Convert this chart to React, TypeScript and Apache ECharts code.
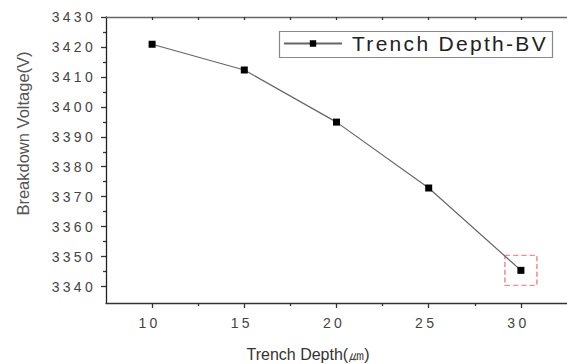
import React, { useEffect, useRef } from "react";
import * as echarts from "echarts";

const depths = [10, 15, 20, 25, 30];
const voltages = [3420.9, 3412.3, 3394.9, 3372.9, 3345.4];
const highlighted = [[30, 3345.4]];
const xMajor = [10, 15, 20, 25, 30];
const xMinor = [12.5, 17.5, 22.5, 27.5];
const xTop = [10, 12.5, 15, 17.5, 20, 22.5, 25, 27.5, 30];
const yMajor = [3340, 3350, 3360, 3370, 3380, 3390, 3400, 3410, 3420, 3430];
const yMinor = [3345, 3355, 3365, 3375, 3385, 3395, 3405, 3415, 3425];
const seriesName = "Trench Depth-BV";
const xTitle = "Trench Depth(㎛)";
const yTitle = "Breakdown Voltage(V)";

const FONT = "'Liberation Sans', Arial, sans-serif";

function applySpacing(el: HTMLDivElement) {
  el.querySelectorAll("text").forEach((t) => {
    const s = (t.textContent || "").trim();
    if (/^\d+$/.test(s)) t.setAttribute("letter-spacing", "3.3");
    else if (s === seriesName) t.setAttribute("letter-spacing", "2.3");
  });
}

export default function App() {
  const ref = useRef<HTMLDivElement>(null);
  useEffect(() => {
    document.body.style.margin = "0";
    const el = ref.current!;
    const chart = echarts.init(el, null, { renderer: "svg" });
    const xMin = 7.5,
      xMax = 32.5,
      yMin = 3334.5,
      yMax = 3430;
    const baseX = {
      type: "value",
      min: xMin,
      max: xMax,
      splitLine: { show: false },
    };
    const baseY = {
      type: "value",
      min: yMin,
      max: yMax,
      splitLine: { show: false },
    };
    const plain = (v: number) => String(v);
    chart.setOption({
      animation: false,
      backgroundColor: "#fff",
      grid: { left: 106, top: 17, width: 464.5, height: 286 },
      legend: {
        data: [seriesName],
        left: 279,
        top: 31,
        padding: [2, 5, 3, 4],
        itemWidth: 58,
        itemHeight: 8,
        textStyle: {
          fontFamily: FONT,
          fontSize: 21,
          color: "#222",
          padding: [0, 0, 0, 5],
        },
      },
      xAxis: [
        {
          ...baseX,
          position: "bottom",
          axisLine: { show: true, onZero: false, lineStyle: { color: "#333", width: 1.3 } },
          axisTick: { show: true, customValues: xMajor, length: 5, inside: false, lineStyle: { color: "#333", width: 1.3 } },
          axisLabel: {
            customValues: xMajor,
            formatter: plain,
            margin: 13,
            padding: [0, 5, 0, 0],
            fontFamily: FONT,
            fontSize: 14,
            color: "#444",
          },
        },
        {
          ...baseX,
          position: "bottom",
          axisLine: { show: false, onZero: false },
          axisTick: { show: true, customValues: xMinor, length: 3, inside: false, lineStyle: { color: "#333", width: 1.3 } },
          axisLabel: { show: false },
        },
        {
          ...baseX,
          position: "top",
          axisLine: { show: true, onZero: false, lineStyle: { color: "#666", width: 1.3 } },
          axisTick: { show: true, customValues: xTop, length: 3, inside: true, lineStyle: { color: "#333", width: 1.3 } },
          axisLabel: { show: false },
        },
      ],
      yAxis: [
        {
          ...baseY,
          position: "left",
          axisLine: { show: true, onZero: false, lineStyle: { color: "#222", width: 1.3 } },
          axisTick: { show: true, customValues: yMajor, length: 5, inside: false, lineStyle: { color: "#333", width: 1.3 } },
          axisLabel: {
            customValues: yMajor,
            formatter: plain,
            margin: 10,
            fontFamily: FONT,
            fontSize: 14,
            color: "#444",
          },
        },
        {
          ...baseY,
          position: "left",
          axisLine: { show: false, onZero: false },
          axisTick: { show: true, customValues: yMinor, length: 3, inside: false, lineStyle: { color: "#333", width: 1.3 } },
          axisLabel: { show: false },
        },
      ],
      graphic: [
        {
          type: "rect",
          shape: { x: 279.5, y: 31.5, width: 273, height: 26 },
          style: { fill: "none", stroke: "#888", lineWidth: 1.2 },
          z: 10,
        },
        {
          type: "text",
          x: 22.5,
          y: 133.5,
          rotation: Math.PI / 2,
          style: {
            text: yTitle,
            font: `16.5px ${FONT}`,
            fill: "#555",
            align: "center",
            verticalAlign: "middle",
          },
        },
        {
          type: "text",
          x: 308,
          y: 354,
          style: {
            text: xTitle,
            font: `16px ${FONT}`,
            fill: "#333",
            align: "center",
            verticalAlign: "middle",
          },
        },
      ],
      series: [
        {
          name: "highlight",
          type: "scatter",
          xAxisIndex: 0,
          yAxisIndex: 0,
          data: highlighted,
          symbol: "rect",
          symbolSize: [32, 30],
          itemStyle: {
            color: "rgba(0,0,0,0)",
            borderColor: "#f07070",
            borderWidth: 1.5,
            borderType: [5, 3],
          },
          silent: true,
          z: 1,
        },
        {
          name: seriesName,
          type: "line",
          xAxisIndex: 0,
          yAxisIndex: 0,
          data: depths.map((d, i) => [d, voltages[i]]),
          symbol: "rect",
          symbolSize: 7,
          showAllSymbol: true,
          lineStyle: { color: "#666", width: 1.2 },
          itemStyle: { color: "#000" },
          z: 3,
        },
      ],
    });
    applySpacing(el);
    const onRendered = () => applySpacing(el);
    chart.on("rendered", onRendered);
    return () => {
      chart.off("rendered", onRendered);
      chart.dispose();
    };
  }, []);
  return (
    <div
      ref={ref}
      style={{ position: "absolute", left: 0, top: 0, width: 567, height: 364 }}
    />
  );
}
